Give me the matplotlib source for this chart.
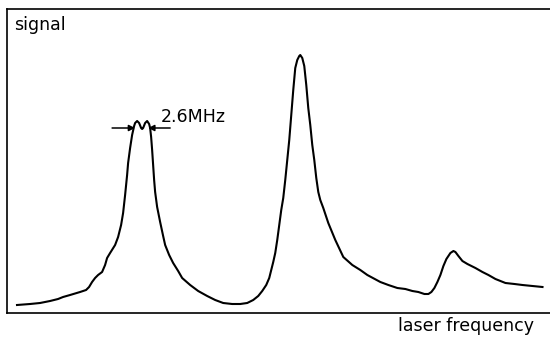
import numpy as np
from matplotlib import pyplot as plt

# trace: x in pixel columns, signal as height above the baseline
freq = [17, 30, 40, 50, 58, 63, 70, 80, 86, 89, 92, 95, 98, 102, 105, 107, 110, 115,
        118, 121, 123, 125, 127, 128, 130, 132, 134, 135, 137, 139, 141, 142,
        143, 145, 147, 149, 150, 151, 152, 153, 154, 155, 157, 160, 163, 165, 169, 173, 178,
        182, 190, 198, 207, 215, 223, 232, 240, 247, 253, 258, 262, 266, 269, 271, 273,
        275, 277, 279, 281, 283, 285, 287, 289, 291, 293, 295, 297, 299, 300, 302, 304,
        306, 308, 310, 312, 314, 316, 318, 320, 323, 328, 335, 343, 352, 360, 367, 380,
        388, 397, 405, 412, 418, 424, 428, 431, 434, 437, 440, 443, 446, 450, 453, 455,
        458, 462, 467, 475, 482, 488, 495, 505, 514, 522, 532, 542]
ypix = [305, 304, 303, 301, 299, 297, 295, 292, 290, 287, 282, 278, 275, 272, 265, 258,
        253, 245, 237, 225, 213, 195, 175, 163, 148, 135, 126, 123, 121, 123, 128, 129,
        128, 123, 121, 124, 128, 137, 150, 165, 180, 192, 207, 222, 236, 245, 255, 263, 271,
        278, 285, 291, 296, 300, 303, 304, 304, 303, 300, 296, 291, 285, 278, 270, 262,
        253, 240, 225, 210, 198, 180, 160, 140, 115, 90, 68, 60, 56, 55, 58, 66, 85, 108,
        125, 145, 160, 178, 192, 200, 208, 223, 240, 257, 265, 270, 275, 282,
        285, 288, 289, 291, 292, 294, 294, 292, 288, 282, 275, 266, 259, 253, 251, 252,
        256, 261, 264, 268, 272, 275, 279, 283, 284, 285, 286, 287]

base = 313
signal = np.array([base - v for v in ypix])
freq = np.array(freq)

W, H = 550, 337
fig = plt.figure(figsize=(W / 100, H / 100), dpi=100)
ax = fig.add_axes([7 / W, (H - base) / H, (W - 7) / W + 0.01, (base - 9) / H])
ax.set_xlim(7, W + 5)
ax.set_ylim(0, base - 9)

ax.plot(freq, signal, color='black', lw=1.5, solid_joinstyle='round')

# linewidth marker: arrows pointing in at the doublet
ay = base - 128
for x0, x1 in [(112, 135), (170, 148)]:
    ax.annotate('', xy=(x1, ay), xytext=(x0, ay),
                arrowprops=dict(arrowstyle='-|>', color='black', lw=1.1, mutation_scale=9,
                                shrinkA=0, shrinkB=0))
ax.text(161, base - 122, '2.6MHz', fontsize=12.5, va='baseline', ha='left')

ax.text(14, base - 16, 'signal', fontsize=12.5, va='top', ha='left')
fig.text(534 / W, 1 - 317 / H, 'laser frequency', fontsize=12.5, va='top', ha='right')

ax.set_xticks([])
ax.set_yticks([])
ax.spines['right'].set_visible(False)
for s in ['left', 'top', 'bottom']:
    ax.spines[s].set_linewidth(1.2)

fig.savefig('out.png', dpi=100)
